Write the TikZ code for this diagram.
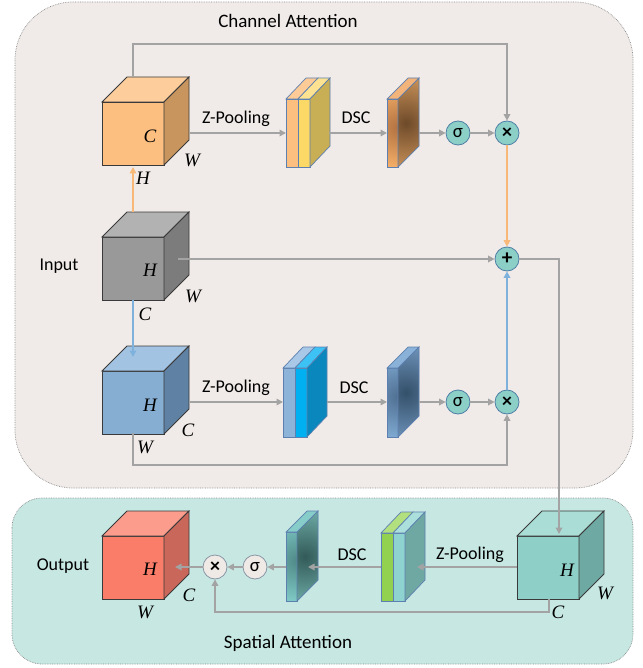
\documentclass[tikz,border=0pt]{standalone}
\usepackage{fontspec}
\setmainfont{Carlito}
\newfontfamily\dimfont{Liberation Serif}
\usetikzlibrary{arrows.meta}

\definecolor{chanbg}{HTML}{F0EBE8}
\definecolor{spatbg}{HTML}{C6E7E2}
\definecolor{framec}{HTML}{8A8A8A}
\definecolor{flow}{HTML}{A3A3A3}
\definecolor{orangeflow}{HTML}{F8B878}
\definecolor{blueflow}{HTML}{7EB2DD}
\definecolor{edgec}{HTML}{3A3A3A}
\definecolor{slabedge}{HTML}{5E80B0}
\definecolor{opfill}{HTML}{8CCFC7}
\definecolor{opedge}{HTML}{4E7EA6}
\definecolor{opfillb}{HTML}{EFEAE6}
\definecolor{opedgeb}{HTML}{8A96A6}
% cube faces
\definecolor{orF}{HTML}{FDBF80}\definecolor{orT}{HTML}{FDCD9C}\definecolor{orS}{HTML}{C9955E}
\definecolor{gyF}{HTML}{999999}\definecolor{gyT}{HTML}{B2B2B2}\definecolor{gyS}{HTML}{7C7C7C}
\definecolor{blF}{HTML}{86AED2}\definecolor{blT}{HTML}{A3C3E2}\definecolor{blS}{HTML}{5F81A3}
\definecolor{rdF}{HTML}{FA7D6A}\definecolor{rdT}{HTML}{FB9C8D}\definecolor{rdS}{HTML}{C9685A}
\definecolor{tlF}{HTML}{8ED0C8}\definecolor{tlT}{HTML}{A9DDD6}\definecolor{tlS}{HTML}{6FA9A3}
% slab layers
\definecolor{p1F}{HTML}{FDBF80}\definecolor{p1T}{HTML}{FDCB97}
\definecolor{p2F}{HTML}{FCD966}\definecolor{p2T}{HTML}{FDE391}\definecolor{p2S}{HTML}{C8AE55}
\definecolor{q1F}{HTML}{8DB3D9}\definecolor{q1T}{HTML}{A9C8E7}
\definecolor{q2F}{HTML}{00B0F0}\definecolor{q2T}{HTML}{3CC2F4}\definecolor{q2S}{HTML}{0A88BE}
\definecolor{r1F}{HTML}{92D050}\definecolor{r1T}{HTML}{B3E07F}
\definecolor{r2F}{HTML}{8ED3CF}\definecolor{r2T}{HTML}{AADFDB}\definecolor{r2S}{HTML}{6FA8A3}
% convolved maps
\definecolor{maFo}{HTML}{F4AE68}\definecolor{maFi}{HTML}{B07040}\definecolor{maSo}{HTML}{C48E56}\definecolor{maSi}{HTML}{6E4A2A}\definecolor{maT}{HTML}{F2B47A}
\definecolor{mbFo}{HTML}{7EA8D0}\definecolor{mbFi}{HTML}{4E6E90}\definecolor{mbSo}{HTML}{6A8EB4}\definecolor{mbSi}{HTML}{34506A}\definecolor{mbT}{HTML}{8AB2D8}
\definecolor{mcFo}{HTML}{7EC8C4}\definecolor{mcFi}{HTML}{4E8886}\definecolor{mcSo}{HTML}{6AA6A2}\definecolor{mcSi}{HTML}{325A58}\definecolor{mcT}{HTML}{86CCC8}

\tikzset{
  region/.style={draw=framec, densely dotted, line width=0.7pt},
  cubeline/.style={draw=edgec, line width=0.8pt},
  slabline/.style={draw=slabedge, line width=0.7pt},
  txt/.style={font=\fontsize{18}{21}\selectfont, inner sep=0pt},
  title/.style={font=\fontsize{19}{22}\selectfont, inner sep=0pt},
  dim/.style={font=\dimfont\itshape\fontsize{19}{20}\selectfont, inner sep=0pt},
  op/.style={circle, draw=opedge, fill=opfill, line width=0.8pt, minimum size=24pt,
             inner sep=0pt, font=\fontsize{19}{19}\selectfont},
  opb/.style={op, draw=opedgeb, fill=opfillb},
  timesop/.style={font=\bfseries\fontsize{20}{20}\selectfont},
  link/.style={draw=flow, line width=1.7pt},
  arr/.style={link, -{Triangle[length=6.5pt,width=6.5pt]}},
}

% cube: front top-left corner (x,y), fill colours of front, top and side faces
\newcommand\drawcube[5]{%
  \filldraw[cubeline, fill=#3] (#1,#2) rectangle (#1+62,#2+63);
  \filldraw[cubeline, fill=#4] (#1,#2) -- (#1+25,#2-25) -- (#1+87,#2-25) -- (#1+62,#2) -- cycle;
  \filldraw[cubeline, fill=#5] (#1+62,#2) -- (#1+87,#2-25) -- (#1+87,#2+38) -- (#1+62,#2+63) -- cycle;
}
% one layer of a slab: left x, top y, height, front and top colours
\newcommand\slablayer[5]{%
  \filldraw[slabline, fill=#4] (#1,#2) rectangle (#1+12,#2+#3);
  \filldraw[slabline, fill=#5] (#1,#2) -- (#1+20,#2-21) -- (#1+32,#2-21) -- (#1+12,#2) -- cycle;
}
% side face of a slab: right edge x of the front, top y, height, colour
\newcommand\slabside[4]{%
  \filldraw[slabline, fill=#4] (#1,#2) -- (#1+20,#2-21) -- (#1+20,#2+#3-21) -- (#1,#2+#3) -- cycle;
}
% a convolved map: left x, top y, height, front colours (edge, centre), side colours (edge, centre), top colour
\newcommand\mapslab[8]{%
  \begin{scope}
    \clip (#1,#2) rectangle (#1+11,#2+#3);
    \fill[#4] (#1,#2) rectangle (#1+11,#2+#3);
    \shade[inner color=#5, outer color=#4] (#1+12,#2+#3/2-6) circle[radius=40];
  \end{scope}
  \draw[slabline] (#1,#2) rectangle (#1+11,#2+#3);
  \filldraw[slabline, fill=#8] (#1,#2) -- (#1+21,#2-21) -- (#1+32,#2-21) -- (#1+11,#2) -- cycle;
  \begin{scope}
    \clip (#1+11,#2) -- (#1+32,#2-21) -- (#1+32,#2+#3-21) -- (#1+11,#2+#3) -- cycle;
    \fill[#6] (#1,#2-30) rectangle (#1+40,#2+#3+10);
    \shade[inner color=#7, outer color=#6] (#1+19,#2+#3/2-10) circle[radius=44];
  \end{scope}
  \draw[slabline] (#1+11,#2) -- (#1+32,#2-21) -- (#1+32,#2+#3-21) -- (#1+11,#2+#3) -- cycle;
}

\begin{document}
\begin{tikzpicture}[x=1pt, y=-1pt]
\useasboundingbox (0,0) rectangle (642,668);

% the two attention regions
\draw[region, fill=chanbg, rounded corners=58pt] (15,2) rectangle (633,488);
\draw[region, fill=spatbg, rounded corners=30pt] (12,498) rectangle (633,664);
\node[title] (ctitle) at (288,21) {Channel Attention};
\node[title] (stitle) at (288,643) {Spatial Attention};

% ---------- cubes ----------
\drawcube{102}{102}{orF}{orT}{orS}
\drawcube{102}{237}{gyF}{gyT}{gyS}
\drawcube{102}{371}{blF}{blT}{blS}
\drawcube{102}{536}{rdF}{rdT}{rdS}
\drawcube{517}{536}{tlF}{tlT}{tlS}

% ---------- pooled slabs ----------
\slablayer{286}{99}{68}{p1F}{p1T}
\slablayer{298}{99}{68}{p2F}{p2T}
\slabside{310}{99}{68}{p2S}

\slablayer{283}{368}{69}{q1F}{q1T}
\slablayer{295}{368}{69}{q2F}{q2T}
\slabside{307}{368}{69}{q2S}

\slablayer{381}{533}{68}{r1F}{r1T}
\slablayer{393}{533}{68}{r2F}{r2T}
\slabside{405}{533}{68}{r2S}

% ---------- convolved maps ----------
\mapslab{387}{99}{68}{maFo}{maFi}{maSo}{maSi}{maT}
\mapslab{387}{368}{69}{mbFo}{mbFi}{mbSo}{mbSi}{mbT}
\mapslab{286}{532}{69}{mcFo}{mcFi}{mcSo}{mcSi}{mcT}

% ---------- dimension labels ----------
\node[dim] (oc) at (150,136) {C};
\node[dim] (ow) at (192,160) {W};
\node[dim] (oh) at (143,178) {H};
\node[dim] (gh) at (150,270) {H};
\node[dim] (gw) at (193,296) {W};
\node[dim] (gc) at (145,314) {C};
\node[dim] (bh) at (150,405) {H};
\node[dim] (bc) at (188,430) {C};
\node[dim] (bw) at (145,447) {W};
\node[dim] (rh) at (150,569) {H};
\node[dim] (rc) at (189,595) {C};
\node[dim] (rw) at (145,612) {W};
\node[dim] (th) at (567,570) {H};
\node[dim] (tw) at (605,593) {W};
\node[dim] (tc) at (558,612) {C};

% ---------- side labels ----------
\node[txt] (inlab) at (59,266) {Input};
\node[txt] (outlab) at (63,566) {Output};
\node[txt] (zp1) at (236,119) {Z-Pooling};
\node[txt] (dsc1) at (356,118) {DSC};
\node[txt] (zp2) at (236,388) {Z-Pooling};
\node[txt] (dsc2) at (354,388) {DSC};
\node[txt] (dsc3) at (352,555) {DSC};
\node[txt] (zp3) at (470,555) {Z-Pooling};

% ---------- operators ----------
\node[op] (sig1) at (458,133) {σ};
\node[op, timesop] (mul1) at (507,133) {×};
\node[op, font=\bfseries\fontsize{21}{21}\selectfont] (add) at (507,259) {+};
\node[op] (sig2) at (458,402) {σ};
\node[op, timesop] (mul2) at (507,402) {×};
\node[opb] (sig3) at (255,567) {σ};
\node[opb, timesop] (mul3) at (215,567) {×};

% ---------- anchor points on the shapes ----------
\coordinate (otop) at (133,77);
\coordinate (obot) at (133,167);
\coordinate (oright) at (190,133);
\coordinate (gtop) at (133,212);
\coordinate (gbot) at (133,300);
\coordinate (gmid) at (178,259);
\coordinate (btop) at (133,357);
\coordinate (bbot) at (133,433);
\coordinate (bright) at (190,402);
\coordinate (s1in) at (286,133);
\coordinate (s1out) at (329,133);
\coordinate (m1in) at (387,133);
\coordinate (m1out) at (419,133);
\coordinate (s2in) at (283,402);
\coordinate (s2out) at (327,402);
\coordinate (m2in) at (387,402);
\coordinate (m2out) at (419,402);
\coordinate (tfront) at (517,567);
\coordinate (ttop) at (559,534);
\coordinate (tbot) at (549,599);
\coordinate (s3in) at (417,567);
\coordinate (s3out) at (381,567);
\coordinate (m3in) at (308,567);
\coordinate (m3out) at (286,567);
\coordinate (rin) at (175,567);

% ---------- connectors ----------
\draw[arr] (otop) |- (507,44) -- (mul1);
\draw[arr] (oright) -- (s1in);
\draw[arr] (s1out) -- (m1in);
\draw[arr] (m1out) -- (sig1);
\draw[arr] (sig1) -- (mul1);
\draw[arr, draw=orangeflow] (mul1) -- (add);
\draw[arr, draw=orangeflow] (gtop) -- (obot);
\draw[arr, draw=blueflow] (gbot) -- (btop);
\draw[arr] (gmid) -- (add);
\draw[arr] (bright) -- (s2in);
\draw[arr] (s2out) -- (m2in);
\draw[arr] (m2out) -- (sig2);
\draw[arr] (sig2) -- (mul2);
\draw[arr, draw=blueflow] (mul2) -- (add);
\draw[arr] (bbot) |- (507,465) -- (mul2);
\draw[arr] (add) -| (ttop);
\draw[arr] (tfront) -- (s3in);
\draw[arr] (s3out) -- (m3in);
\draw[arr] (m3out) -- (sig3);
\draw[arr] (sig3) -- (mul3);
\draw[arr] (mul3) -- (rin);
\draw[arr] (tbot) |- (215,612) -- (mul3);
\end{tikzpicture}
\end{document}
